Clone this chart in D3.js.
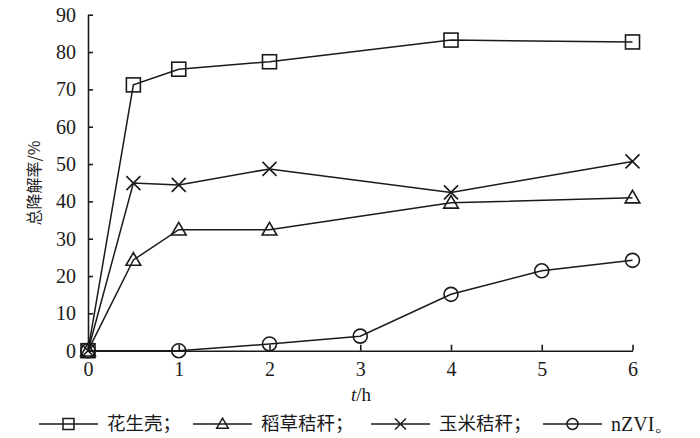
<!DOCTYPE html>
<html><head><meta charset="utf-8">
<script src="https://cdn.jsdelivr.net/npm/d3@7"></script>
<style>body{margin:0;background:#fff}</style>
</head><body>
<svg id="c" width="700" height="438"></svg>
<script>
const tBio = [0, 0.5, 1, 2, 4, 6];
const peanut = [0, 71.2, 75.4, 77.4, 83.2, 82.7];
const rice = [0, 24.3, 32.4, 32.4, 39.6, 41.0];
const corn = [0, 44.9, 44.4, 48.7, 42.4, 50.7];
const tZVI = [0, 1, 2, 3, 4, 5, 6];
const nzvi = [0, 0, 1.8, 3.9, 15.1, 21.4, 24.2];
const xTicks = [0, 1, 2, 3, 4, 5, 6];
const yTicks = [0, 10, 20, 30, 40, 50, 60, 70, 80, 90];
const seriesNames = ["花生壳；", "稻草秸秆；", "玉米秸秆；", "nZVI。"];
const markers = ["square", "triangle", "cross", "circle"];

const svg = d3.select("#c");
const x = d3.scaleLinear().domain([0, 6]).range([88, 632.5]);
const y = d3.scaleLinear().domain([0, 90]).range([350.7, 14.7]);
const ink = "#1a1a1a";
const serif = "'Liberation Serif','Times New Roman',serif";
const cjk = "'Noto Sans CJK SC',sans-serif";

// axes
const xAxis = svg.append("g").attr("transform", `translate(0,${y(0)})`)
  .call(d3.axisBottom(x).tickValues(xTicks).tickFormat(d3.format("d")).tickSizeInner(-6).tickSizeOuter(0));
const yAxis = svg.append("g").attr("transform", `translate(${x(0)},0)`)
  .call(d3.axisLeft(y).tickValues(yTicks).tickFormat(d3.format("d")).tickSizeInner(-5).tickSizeOuter(0).tickPadding(12));
[xAxis, yAxis].forEach(g => {
  g.selectAll("path,line").attr("stroke", ink).attr("stroke-width", 1.6);
  g.selectAll("text").attr("font-family", serif).attr("font-size", 20).attr("fill", ink);
});
xAxis.selectAll("text").attr("dy", "0.35em").attr("y", 18);

// axis titles
const xt = svg.append("text").attr("x", 361).attr("y", 401).attr("text-anchor", "middle")
  .attr("font-family", serif).attr("font-size", 19).attr("fill", ink);
xt.append("tspan").attr("font-style", "italic").text("t");
xt.append("tspan").text("/h");
svg.append("text").attr("transform", "translate(40,183) rotate(-90)").attr("text-anchor", "middle")
  .attr("font-family", cjk).attr("font-size", 16).attr("fill", ink).text("总降解率/%");

function drawMarker(g, type, cx, cy, s) {
  const h = s / 2;
  if (type === "square") g.append("rect").attr("x", cx - h).attr("y", cy - h).attr("width", s).attr("height", s);
  else if (type === "circle") g.append("circle").attr("cx", cx).attr("cy", cy).attr("r", h);
  else if (type === "triangle") g.append("path").attr("d", `M${cx},${cy - h * 1.05}L${cx + h * 1.05},${cy + h * 0.75}L${cx - h * 1.05},${cy + h * 0.75}Z`);
  else if (type === "cross") g.append("path").attr("d", `M${cx - h},${cy - h}L${cx + h},${cy + h}M${cx - h},${cy + h}L${cx + h},${cy - h}`);
}

const series = [
  { t: tBio, v: peanut }, { t: tBio, v: rice }, { t: tBio, v: corn }, { t: tZVI, v: nzvi }
];
const line = d3.line().x(d => x(d[0])).y(d => y(d[1]));
series.forEach((s, i) => {
  const pts = s.t.map((t, j) => [t, s.v[j]]);
  svg.append("path").attr("d", line(pts)).attr("fill", "none").attr("stroke", ink).attr("stroke-width", 1.5);
  const g = svg.append("g").attr("fill", "none").attr("stroke", ink).attr("stroke-width", 1.6);
  pts.forEach(p => drawMarker(g, markers[i], x(p[0]), y(p[1]), 14));
});

// legend
const legX = [39, 193, 371, 543];
const legY = 424;
seriesNames.forEach((n, i) => {
  const lx = legX[i];
  svg.append("line").attr("x1", lx).attr("x2", lx + 59).attr("y1", legY).attr("y2", legY)
    .attr("stroke", ink).attr("stroke-width", 1.5);
  const g = svg.append("g").attr("fill", "none").attr("stroke", ink).attr("stroke-width", 1.5);
  drawMarker(g, markers[i], lx + 29.5, legY, 11);
  svg.append("text").attr("x", lx + 68).attr("y", legY).attr("dy", "0.35em")
    .attr("font-family", i === 3 ? serif : cjk).attr("font-size", i === 3 ? 20 : 18.5).attr("fill", ink)
    .text(n);
});
</script>
</body></html>
